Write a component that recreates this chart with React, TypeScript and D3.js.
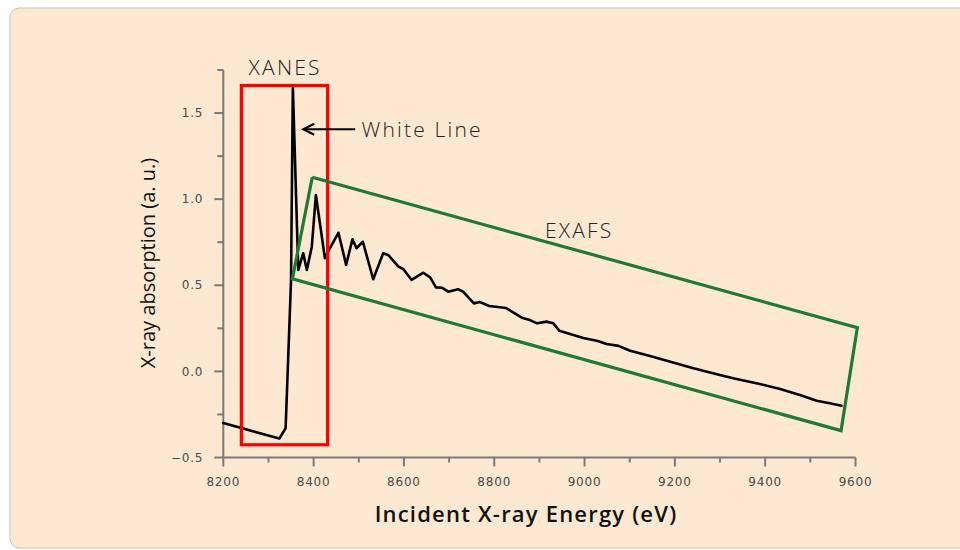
import React from "react";
import * as d3 from "d3";

const energy = [8200, 8324, 8338, 8350, 8354, 8366, 8377, 8385, 8396, 8405, 8425, 8432, 8455, 8472, 8486, 8495, 8509, 8532, 8554, 8565, 8588, 8599, 8617, 8643, 8658, 8671, 8684, 8698, 8720, 8731, 8755, 8768, 8789, 8813, 8826, 8861, 8879, 8895, 8916, 8931, 8944, 8968, 8997, 9027, 9049, 9075, 9101, 9145, 9190, 9241, 9293, 9329, 9388, 9433, 9477, 9514, 9543, 9569];
const absorption = [-0.30, -0.39, -0.33, 0.53, 1.653, 0.589, 0.686, 0.589, 0.724, 1.024, 0.657, 0.695, 0.805, 0.618, 0.767, 0.715, 0.753, 0.535, 0.686, 0.676, 0.608, 0.593, 0.531, 0.573, 0.546, 0.488, 0.486, 0.463, 0.477, 0.463, 0.395, 0.403, 0.38, 0.372, 0.368, 0.312, 0.298, 0.279, 0.289, 0.279, 0.236, 0.217, 0.194, 0.178, 0.159, 0.148, 0.12, 0.089, 0.056, 0.018, -0.017, -0.04, -0.073, -0.102, -0.137, -0.17, -0.185, -0.199];

const xTicks = [8200, 8400, 8600, 8800, 9000, 9200, 9400, 9600];
const xMinorTicks = [8300, 8500, 8700, 8900, 9100, 9300, 9500];
const yTicks = [-0.5, 0.0, 0.5, 1.0, 1.5];
const yMinorTicks = [-0.25, 0.25, 0.75, 1.25, 1.75];

// XANES box [x0, x1, y0, y1] in data units
const xanesBox = [8240, 8431, -0.426, 1.66];
// EXAFS rotated box corners (energy, absorption)
const exafsX = [8397, 9604, 9568, 8353];
const exafsY = [1.127, 0.254, -0.344, 0.537];

const labelTexts = ["XANES", "White Line", "EXAFS"];
const labelX = [8337, 8506, 8988];
const labelY = [1.72, 1.36, 0.775];
const arrowX = [8492, 8377];
const arrowY = [1.406, 1.406];

const W = 960;
const H = 550;
const X0 = 223.3, X1 = 855.5;
const Y0 = 457.5, Y1 = 70;

export default function App() {
  const x = d3.scaleLinear().domain([8200, 9600]).range([X0, X1]);
  const y = d3.scaleLinear().domain([-0.5, 1.75]).range([Y0, Y1]);
  const line = d3
    .line<number>()
    .x((_, i) => x(energy[i]))
    .y((d) => y(d));
  const pathD = line(absorption) || "";

  const exafsPts = exafsX.map((e, i) => [x(e), y(exafsY[i])] as [number, number]);
  const exafsD = d3.line()(exafsPts.concat([exafsPts[0]])) || "";

  const axisColor = "#7a7a7a";
  const tickFont = "'DejaVu Sans', sans-serif";
  const labelFont = "'Open Sans', sans-serif";

  const ax0 = x(arrowX[0]);
  const ax1 = x(arrowX[1]);
  const ay = y(arrowY[0]);

  return (
    <svg
      width={W}
      height={H}
      style={{ position: "absolute", left: 0, top: 0, background: "#ffffff" }}
    >
      <rect x={10} y={8} width={970} height={540} rx={9} fill="#FDE9D1" stroke="#c4c4c4" strokeWidth={1} />

      {/* axes */}
      <line x1={X0} x2={X0} y1={Y1} y2={Y0} stroke={axisColor} strokeWidth={2} />
      <line x1={X0} x2={X1} y1={Y0} y2={Y0} stroke={axisColor} strokeWidth={2} />
      {yTicks.map((t) => (
        <g key={"yt" + t}>
          <line x1={X0 - 9} x2={X0} y1={y(t)} y2={y(t)} stroke={axisColor} strokeWidth={2} />
          <text
            x={X0 - 20}
            y={y(t)}
            dy="0.35em"
            textAnchor="end"
            fontFamily={tickFont}
            fontSize={12}
            letterSpacing={0.8}
            fill="#4a4a4a"
          >
            {d3.format(".1f")(t)}
          </text>
        </g>
      ))}
      {yMinorTicks.map((t) => (
        <line key={"ym" + t} x1={X0 - 6} x2={X0} y1={y(t)} y2={y(t)} stroke={axisColor} strokeWidth={2} />
      ))}
      {xTicks.map((t) => (
        <g key={"xt" + t}>
          <line x1={x(t)} x2={x(t)} y1={Y0} y2={Y0 + 9} stroke={axisColor} strokeWidth={2} />
          <text
            x={x(t)}
            y={Y0 + 28}
            textAnchor="middle"
            fontFamily={tickFont}
            fontSize={12}
            letterSpacing={0.8}
            fill="#4a4a4a"
          >
            {t}
          </text>
        </g>
      ))}
      {xMinorTicks.map((t) => (
        <line key={"xm" + t} x1={x(t)} x2={x(t)} y1={Y0} y2={Y0 + 5} stroke={axisColor} strokeWidth={2} />
      ))}

      {/* axis titles */}
      <text
        x={526}
        y={522}
        textAnchor="middle"
        fontFamily={labelFont}
        fontWeight={600}
        fontSize={22}
        letterSpacing={1.2}
        fill="#111"
      >
        Incident X-ray Energy (eV)
      </text>
      <text
        transform="translate(155,263) rotate(-90)"
        textAnchor="middle"
        fontFamily={labelFont}
        fontWeight={500}
        fontSize={20}
        fill="#111"
      >
        X-ray absorption (a. u.)
      </text>

      {/* data */}
      <path d={pathD} fill="none" stroke="#000" strokeWidth={2.6} strokeLinejoin="round" strokeLinecap="round" />

      {/* XANES box */}
      <rect
        x={x(xanesBox[0])}
        y={y(xanesBox[3])}
        width={x(xanesBox[1]) - x(xanesBox[0])}
        height={y(xanesBox[2]) - y(xanesBox[3])}
        fill="none"
        stroke="#ff0000"
        strokeWidth={3.2}
      />
      {/* EXAFS box */}
      <path d={exafsD} fill="none" stroke="#1f7a35" strokeWidth={3.2} strokeLinejoin="miter" />

      {/* labels */}
      <text x={x(labelX[0])} y={y(labelY[0])} textAnchor="middle" fontFamily={labelFont} fontWeight={300} fontSize={21} letterSpacing={2.2} fill="#222">
        {labelTexts[0]}
      </text>
      <text x={x(labelX[1])} y={y(labelY[1])} textAnchor="start" fontFamily={labelFont} fontWeight={300} fontSize={21} letterSpacing={2.2} fill="#222">
        {labelTexts[1]}
      </text>
      <text x={x(labelX[2])} y={y(labelY[2])} textAnchor="middle" fontFamily={labelFont} fontWeight={300} fontSize={21} letterSpacing={2.2} fill="#222">
        {labelTexts[2]}
      </text>

      {/* arrow */}
      <line x1={ax0} x2={ax1} y1={ay} y2={ay} stroke="#000" strokeWidth={2} />
      <path
        d={`M${ax1 + 11},${ay - 5.5} L${ax1},${ay} L${ax1 + 11},${ay + 5.5}`}
        fill="none"
        stroke="#000"
        strokeWidth={2}
      />
    </svg>
  );
}
